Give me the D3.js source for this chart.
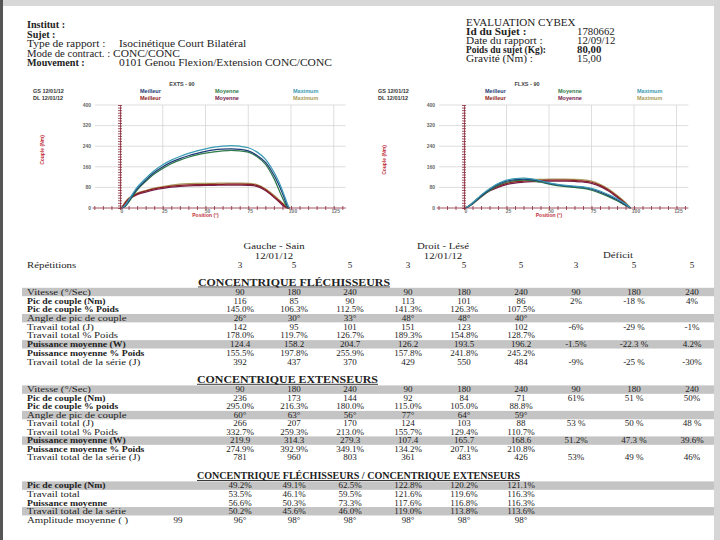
<!DOCTYPE html>
<html><head><meta charset="utf-8">
<script src="https://cdn.jsdelivr.net/npm/d3@7"></script>
<style>body{margin:0;background:#fff}svg{display:block}</style>
</head><body><svg id="c" width="720" height="540"></svg>
<script>
// ---------- DATA ----------
const headerLeftLabels = ["Institut :", "Sujet :", "Type de rapport :", "Mode de contract. :", "Mouvement :"];
const headerLeftValues = ["", "", "Isocinétique Court Bilatéral", "CONC/CONC", "0101 Genou Flexion/Extension CONC/CONC"];
const headerRightTitle = "EVALUATION CYBEX";
const headerRightLabels = ["Id du Sujet :", "Date du rapport :", "Poids du sujet (Kg):", "Gravité (Nm) :"];
const headerRightValues = ["1780662", "12/09/12", "80,00", "15,00"];

const chartTitles = ["EXTS - 90", "FLXS - 90"];
const legendDates = ["GS 12/01/12", "DL 12/01/12"];
const legendNames = ["Meilleur", "Moyenne", "Maximum"];
const yTicks = [0, 80, 160, 240, 320, 400];
const xTicks = [25, 50, 75, 100, 125];

// Extension (EXTS - 90) curves: position (deg) -> torque (Nm)
const extPos = [1, 3, 5, 10, 15, 20, 25, 30, 35, 40, 45, 50, 55, 60, 65, 70, 75, 80, 85, 90, 93, 96, 98, 99];
const extGsMeilleur = [0, 8, 26, 74, 108, 138, 160, 178, 192, 203, 212, 220, 226, 229, 230, 228, 222, 205, 178, 128, 88, 40, 5, 0];
const extGsMoyenne  = [0, 6, 22, 70, 103, 132, 154, 172, 186, 197, 206, 213, 218, 222, 224, 222, 217, 200, 170, 115, 70, 25, 0, 0];
const extGsMaximum  = [0, 10, 30, 80, 115, 145, 168, 186, 200, 212, 222, 230, 236, 240, 242, 240, 234, 218, 190, 140, 100, 50, 15, 0];
const extDlMeilleur = [0, 20, 35, 55, 66, 74, 80, 85, 88, 90, 91, 91, 92, 92, 93, 93, 92, 88, 72, 45, 28, 10, 0, 0];
const extDlMoyenne  = [0, 18, 32, 52, 62, 70, 76, 81, 84, 86, 87, 88, 88, 89, 89, 89, 88, 84, 68, 42, 24, 6, 0, 0];
const extDlMaximum  = [0, 22, 38, 58, 68, 77, 83, 89, 93, 95, 96, 96, 96, 97, 97, 97, 96, 91, 75, 50, 32, 14, 2, 0];

// Flexion (FLXS - 90) curves
const flxPos = [0, 2, 5, 10, 15, 20, 25, 30, 35, 40, 45, 50, 55, 60, 65, 70, 75, 80, 85, 90, 95, 98];
const flxGsMeilleur = [0, 4, 18, 47, 72, 92, 104, 110, 112, 110, 104, 96, 90, 86, 83, 80, 73, 62, 48, 32, 12, 0];
const flxGsMoyenne  = [0, 3, 16, 44, 68, 88, 100, 106, 108, 106, 100, 93, 87, 83, 80, 76, 69, 58, 44, 28, 10, 0];
const flxGsMaximum  = [0, 5, 20, 50, 75, 95, 108, 114, 116, 113, 106, 98, 92, 88, 85, 82, 76, 66, 52, 36, 16, 0];
const flxDlMeilleur = [0, 4, 18, 46, 70, 84, 95, 101, 104, 106, 107, 108, 108, 108, 107, 105, 100, 88, 70, 46, 18, 0];
const flxDlMoyenne  = [0, 3, 16, 43, 66, 80, 91, 97, 100, 102, 103, 104, 104, 104, 103, 101, 96, 84, 66, 42, 15, 0];
const flxDlMaximum  = [0, 5, 20, 48, 72, 87, 98, 104, 108, 110, 111, 112, 112, 112, 111, 109, 104, 92, 74, 50, 22, 0];

const sideHeaders = ["Gauche - Sain", "Droit - Lésé"];
const sideDates = ["12/01/12", "12/01/12"];
const deficitHeader = "Déficit";
const repetitions = ["3", "5", "5", "3", "5", "5", "3", "5", "5"];

const sec1Title = "CONCENTRIQUE FLÉCHISSEURS";
const sec1Labels = ["Vitesse (°/Sec)", "Pic de couple (Nm)", "Pic de couple % Poids", "Angle de pic de couple", "Travail total (J)", "Travail total % Poids", "Puissance moyenne (W)", "Puissance moyenne % Poids", "Travail total de la série (J)"];
const sec1Rows = [
  ["90", "180", "240", "90", "180", "240", "90", "180", "240"],
  ["116", "85", "90", "113", "101", "86", "2%", "-18 %", "4%"],
  ["145.0%", "106.3%", "112.5%", "141.3%", "126.3%", "107.5%", "", "", ""],
  ["26°", "30°", "33°", "48°", "48°", "40°", "", "", ""],
  ["142", "95", "101", "151", "123", "102", "-6%", "-29 %", "-1%"],
  ["178.0%", "119.7%", "126.7%", "189.3%", "154.8%", "128.7%", "", "", ""],
  ["124.4", "158.2", "204.7", "126.2", "193.5", "196.2", "-1.5%", "-22.3 %", "4.2%"],
  ["155.5%", "197.8%", "255.9%", "157.8%", "241.8%", "245.2%", "", "", ""],
  ["392", "437", "370", "429", "550", "484", "-9%", "-25 %", "-30%"]
];

const sec2Title = "CONCENTRIQUE EXTENSEURS";
const sec2Labels = ["Vitesse (°/Sec)", "Pic de couple (Nm)", "Pic de couple % poids", "Angle de pic de couple", "Travail total (J)", "Travail total % Poids", "Puissance moyenne (W)", "Puissance moyenne % Poids", "Travail total de la série (J)"];
const sec2Rows = [
  ["90", "180", "240", "90", "180", "240", "90", "180", "240"],
  ["236", "173", "144", "92", "84", "71", "61%", "51 %", "50%"],
  ["295.0%", "216.3%", "180.0%", "115.0%", "105.0%", "88.8%", "", "", ""],
  ["60°", "63°", "56°", "77°", "64°", "59°", "", "", ""],
  ["266", "207", "170", "124", "103", "88", "53 %", "50 %", "48 %"],
  ["332.7%", "259.3%", "213.0%", "155.7%", "129.4%", "110.7%", "", "", ""],
  ["219.9", "314.3", "279.3", "107.4", "165.7", "168.6", "51.2%", "47.3 %", "39.6%"],
  ["274.9%", "392.9%", "349.1%", "134.2%", "207.1%", "210.8%", "", "", ""],
  ["781", "960", "803", "361", "483", "426", "53%", "49 %", "46%"]
];

const sec3Title = "CONCENTRIQUE FLÉCHISSEURS / CONCENTRIQUE EXTENSEURS";
const sec3Labels = ["Pic de couple (Nm)", "Travail total", "Puissance moyenne", "Travail total de la série", "Amplitude moyenne (  )"];
const sec3Rows = [
  ["49.2%", "49.1%", "62.5%", "122.8%", "120.2%", "121.1%", "", "", ""],
  ["53.5%", "46.1%", "59.5%", "121.6%", "119.6%", "116.3%", "", "", ""],
  ["56.6%", "50.3%", "73.3%", "117.6%", "116.8%", "116.3%", "", "", ""],
  ["50.2%", "45.6%", "46.0%", "119.0%", "113.8%", "113.6%", "", "", ""],
  ["96°", "98°", "98°", "98°", "98°", "98°", "", "", ""]
];
const amplitudeExtra = "99";

// ---------- DRAWING ----------
const svg = d3.select("#c");
const serif = '"Liberation Serif","DejaVu Serif",serif';
const sans = '"Liberation Sans","DejaVu Sans",sans-serif';

svg.append("rect").attr("width", 720).attr("height", 540).attr("fill", "#fff");
svg.append("rect").attr("x", 0).attr("y", 0).attr("width", 720).attr("height", 6).attr("fill", "#d8d8d8");
svg.append("rect").attr("x", 0).attr("y", 0).attr("width", 3).attr("height", 540).attr("fill", "#555");
svg.append("rect").attr("x", 714).attr("y", 0).attr("width", 6).attr("height", 540).attr("fill", "#d6d6d6");

// stretched text helper (the scanned page is wider than tall)
function stext(g, x, y, s, sx, anchor) {
  return g.append("text").attr("transform", `translate(${x},${y}) scale(${sx},1)`)
    .attr("text-anchor", anchor || "start").text(s);
}

// Header
const hl = svg.append("g").attr("font-family", serif).attr("font-size", 9.4).attr("fill", "#222");
const hlY = [28, 37.5, 47, 56.5, 66];
headerLeftLabels.forEach((t, i) => {
  const b = (i < 2 || i == 4);
  stext(hl, 27, hlY[i], t, b ? 1.08 : (i == 3 ? 1.14 : 1.22)).attr("font-weight", b ? "bold" : "normal");
  if (headerLeftValues[i]) stext(hl, i == 3 ? 113 : 119, hlY[i], headerLeftValues[i], 1.22);
});
stext(hl, 466, 26, headerRightTitle, 1.18);
const hrY = [35, 44, 53, 62];
headerRightLabels.forEach((t, i) => {
  stext(hl, 466, hrY[i], t, (i == 2) ? 1.0 : 1.2).attr("font-weight", (i == 0 || i == 2) ? "bold" : "normal");
  stext(hl, 577, hrY[i], headerRightValues[i], 1.15).attr("font-weight", i == 2 ? "bold" : "normal");
});

const gsColors = ["#1c3a78", "#2f7a4a", "#3a9bb3"];
const dlColors = ["#8e1c24", "#74214e", "#a89a5a"];

function drawChart(opt) {
  const g = svg.append("g");
  const x = d3.scaleLinear().domain([0, 100]).range([opt.x0, opt.x100]);
  const y = d3.scaleLinear().domain([0, 400]).range([208, 105]);
  const xMin = x(-16), xMax = x(132);
  g.selectAll(".hg").data(yTicks.slice(1)).join("line")
    .attr("x1", x(0) - 25).attr("x2", xMax).attr("y1", d => y(d)).attr("y2", d => y(d))
    .attr("stroke", "#d0d0d0").attr("stroke-width", 0.7);
  g.selectAll(".vg").data(xTicks).join("line")
    .attr("x1", d => x(d)).attr("x2", d => x(d)).attr("y1", y(400)).attr("y2", y(0))
    .attr("stroke", "#d0d0d0").attr("stroke-width", 0.7);
  const line = d3.line().x(d => x(d[0])).y(d => y(d[1])).curve(d3.curveCatmullRom);
  opt.series.forEach(s => {
    g.append("path").datum(opt.pos.map((p, i) => [p, s.v[i]]))
      .attr("d", line).attr("fill", "none").attr("stroke", s.c).attr("stroke-width", 1.25);
  });
  const axisCol = "#8a2a3a";
  const xa = g.append("g").attr("transform", `translate(0,${y(0)})`)
    .call(d3.axisBottom(x).tickValues(d3.range(-15, 131, 5)).tickSizeInner(2).tickSizeOuter(0).tickFormat(""));
  xa.select(".domain").attr("d", `M${xMin},0H${xMax}`);
  xa.selectAll("line").attr("y1", -2);
  xa.selectAll("path,line").attr("stroke", axisCol).attr("stroke-width", 0.8);
  const ya = g.append("g").attr("transform", `translate(${x(0)},0)`)
    .call(d3.axisLeft(y).tickValues(d3.range(0, 401, 10)).tickSizeInner(2).tickSizeOuter(0).tickFormat(""));
  ya.selectAll("line").attr("x1", 2);
  ya.selectAll("path,line").attr("stroke", axisCol).attr("stroke-width", 0.8);
  g.selectAll(".yl").data(yTicks).join("text").attr("x", x(0) - 29).attr("y", d => y(d) + 1.8)
    .attr("text-anchor", "end").attr("font-family", sans).attr("font-size", 5).attr("font-weight", "bold").attr("fill", "#666").text(d => d);
  g.selectAll(".xl").data([0].concat(xTicks)).join("text").attr("x", d => x(d) + 2).attr("y", y(0) + 4.5)
    .attr("text-anchor", "middle").attr("font-family", sans).attr("font-size", 5).attr("font-weight", "bold").attr("fill", "#777").text(d => d);
  g.append("text").attr("transform", `translate(${opt.ylx},${opt.yly}) rotate(-90)`).attr("text-anchor", "middle")
    .attr("font-family", sans).attr("font-size", 5).attr("font-weight", "bold").attr("fill", "#c0303a").text("Couple (Nm)");
  g.append("text").attr("x", x(50)).attr("y", 217).attr("text-anchor", "middle")
    .attr("font-family", sans).attr("font-size", 5).attr("font-weight", "bold").attr("fill", "#c0303a").text("Position (°)");
  g.append("text").attr("x", opt.tx).attr("y", 86).attr("text-anchor", "middle")
    .attr("font-family", sans).attr("font-size", 5.5).attr("font-weight", "bold").attr("fill", "#444").text(opt.title);
  legendDates.forEach((d, r) => {
    g.append("text").attr("x", opt.dx).attr("y", 93 + r * 7).attr("font-family", sans).attr("font-size", 5.5)
      .attr("font-weight", "bold").attr("fill", "#333").text(d);
    legendNames.forEach((n, k) => {
      g.append("text").attr("x", opt.lx[k]).attr("y", 93 + r * 7).attr("font-family", sans).attr("font-size", 5.5)
        .attr("font-weight", "bold").attr("fill", (r == 0 ? gsColors : dlColors)[k]).text(n);
    });
  });
}

drawChart({
  x0: 120, x100: 291, pos: extPos, title: chartTitles[0], tx: 182, dx: 33, lx: [140, 215, 293], ylx: 44, yly: 150,
  series: [
    {v: extDlMoyenne, c: dlColors[1]}, {v: extDlMaximum, c: dlColors[2]}, {v: extDlMeilleur, c: dlColors[0]},
    {v: extGsMoyenne, c: gsColors[1]}, {v: extGsMeilleur, c: gsColors[0]}, {v: extGsMaximum, c: gsColors[2]}
  ]
});
drawChart({
  x0: 464, x100: 634, pos: flxPos, title: chartTitles[1], tx: 527, dx: 378, lx: [485, 558, 637], ylx: 386, yly: 160,
  series: [
    {v: flxDlMoyenne, c: dlColors[1]}, {v: flxDlMaximum, c: dlColors[2]}, {v: flxDlMeilleur, c: dlColors[0]},
    {v: flxGsMoyenne, c: gsColors[1]}, {v: flxGsMeilleur, c: gsColors[0]}, {v: flxGsMaximum, c: gsColors[2]}
  ]
});

// Tables
const colX = [240, 294, 350, 408, 464, 521, 576, 634, 692];
const tg = svg.append("g").attr("font-family", serif).attr("font-size", 9).attr("fill", "#222");
const tsx = 1.2;
stext(tg, 274, 249, sideHeaders[0], tsx, "middle");
stext(tg, 274, 258.5, sideDates[0], tsx, "middle");
stext(tg, 443, 249, sideHeaders[1], tsx, "middle");
stext(tg, 443, 258.5, sideDates[1], tsx, "middle");
stext(tg, 618, 258, deficitHeader, tsx, "middle");
stext(tg, 27, 268, "Répétitions", tsx);
repetitions.forEach((r, i) => tg.append("text").attr("x", colX[i]).attr("y", 268).attr("text-anchor", "middle").text(r));

function section(title, tx, ty, tw, labels, rows, y0, dy, shaded, bold) {
  tg.append("text").attr("x", tx).attr("y", ty).attr("font-weight", "bold").attr("font-size", 9.3)
    .attr("textLength", tw).attr("lengthAdjust", "spacingAndGlyphs").text(title);
  tg.append("line").attr("x1", tx).attr("x2", tx + tw).attr("y1", ty + 1.5).attr("y2", ty + 1.5).attr("stroke", "#222").attr("stroke-width", 0.9);
  labels.forEach((l, i) => {
    const yy = y0 + i * dy;
    if (shaded.includes(i)) tg.append("rect").attr("x", 22).attr("y", yy - 7).attr("width", 692).attr("height", 8.4).attr("fill", "#c4c4c4");
  });
  labels.forEach((l, i) => {
    const yy = y0 + i * dy;
    const b = bold.includes(i);
    stext(tg, 27, yy, l, b ? 1.08 : 1.2).attr("font-weight", b ? "bold" : "normal");
    rows[i].forEach((v, j) => { if (v) tg.append("text").attr("x", colX[j]).attr("y", yy).attr("text-anchor", "middle").text(v); });
  });
}
section(sec1Title, 198, 285.5, 192, sec1Labels, sec1Rows, 294.8, 8.72, [0, 3, 6], [1, 2, 6, 7]);
section(sec2Title, 197, 382.8, 181, sec2Labels, sec2Rows, 392.4, 8.5, [0, 3, 6], [1, 2, 6, 7]);
section(sec3Title, 197, 479, 323, sec3Labels, sec3Rows, 488.4, 8.55, [0, 3], [0, 2]);
tg.append("text").attr("x", 178).attr("y", 488.4 + 4 * 8.55).attr("text-anchor", "middle").text(amplitudeExtra);
</script></body></html>
